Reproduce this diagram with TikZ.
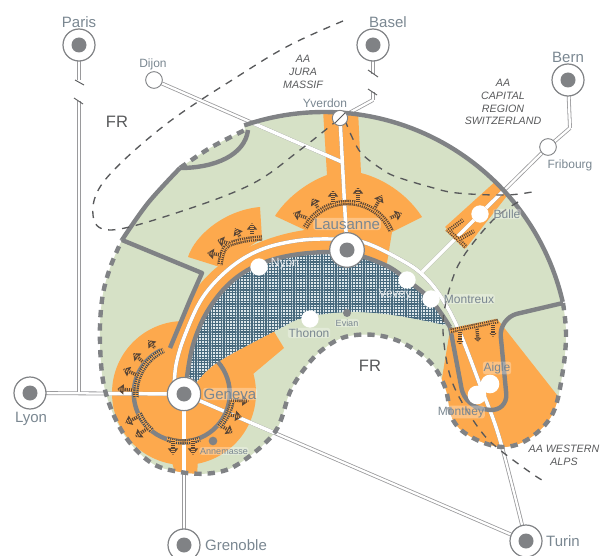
\documentclass[tikz,border=0pt]{standalone}
\usepackage{fontspec}
\setmainfont{Liberation Sans}
\usetikzlibrary{arrows.meta,patterns.meta,calc,backgrounds}
\definecolor{gGreen}{HTML}{D6E1C6}
\definecolor{gOrange}{HTML}{FDA94D}
\definecolor{gLine}{HTML}{808285}
\definecolor{gDark}{HTML}{58595B}
\definecolor{gText}{HTML}{7A8791}
\definecolor{gRail}{HTML}{9A9A9C}
\definecolor{gHatch}{HTML}{5A4636}
\definecolor{gRing}{HTML}{3F4A56}
\definecolor{gLake}{HTML}{DCE6EA}
\definecolor{gGrid}{HTML}{47697D}
\pgfdeclarelayer{lowest}\pgfdeclarelayer{rails}
\pgfsetlayers{lowest,rails,main}
\def\edgeA{plot[smooth,tension=.6] coordinates {(563,303)(566,333)(563,370)(553,413)(530,438)(503,447)(473,438)(453,420)(445,387)(430,362)(403,343)(375,335)(345,337)(322,350)(305,368)(290,392)(275,432)(240,463)(213,473)(180,472)(150,462)(123,433)(105,390)(100,343)(102,300)(110,268)(122,240)}}
\def\edgeB{plot[smooth,tension=.6] coordinates {(122,240)(148,203)(180,168)}}
\def\edgeC{plot[smooth,tension=.6] coordinates {(180,168)(210,148)(245,130)}}
\def\edgeD{plot[domain=251:347,samples=50,smooth] ({324+245*cos(\x)},{357+245*sin(\x)})}
\def\fullEdge{plot[smooth,tension=.6] coordinates {(563,303)(566,333)(563,370)(553,413)(530,438)(503,447)(473,438)(453,420)(445,387)(430,362)(403,343)(375,335)(345,337)(322,350)(305,368)(290,392)(275,432)(240,463)(213,473)(180,472)(150,462)(123,433)(105,390)(100,343)(102,300)(110,268)(122,240)} -- plot[smooth,tension=.6] coordinates {(122,240)(148,203)(180,168)} -- plot[smooth,tension=.6] coordinates {(180,168)(210,148)(245,130)} -- plot[domain=251:347,samples=50,smooth] ({324+245*cos(\x)},{357+245*sin(\x)}) -- cycle}
\def\lakePath{plot[smooth,tension=.6] coordinates {(187,377)(193,345)(207,312)(230,283)(260,264)(300,254)(347,253)(385,265)(407,280)(431,300)(445,323)} -- plot[smooth,tension=.6] coordinates {(445,325)(393,315)(347,312)(303,318)(277,330)(218,362)(197,382)} -- cycle}
\def\roadPath{plot[smooth,tension=.6] coordinates {(gStart)(176,365)(185,335)(203,297)(230,268)(260,250)(295,241)(330,239)(363,242)(403,261)(425,277)(443,300)(460,333)(480,385)(500,440)(Turin.center)}}
\tikzset{
  x=.75pt,y=-.75pt,
  every node/.style={inner sep=0pt,outer sep=0pt,text=gText},
  hub/.style={circle,draw=gLine,fill=white,line width=.9pt,minimum size=24pt,
     path picture={\fill[gLine] (path picture bounding box.center) circle (7.5);}},
  city/.style={circle,draw=gLine,fill=white,line width=.7pt,minimum size=12.5pt},
  town/.style={circle,fill=white,minimum size=13pt},
  dotnode/.style={circle,fill=gLine,minimum size=6pt},
  big/.style={font=\fontsize{11.25}{13}\selectfont},
  mid/.style={font=\fontsize{9}{11}\selectfont},
  tiny/.style={font=\fontsize{6.75}{8}\selectfont},
  area/.style={font=\itshape\fontsize{8}{9.6}\selectfont,text=gDark,align=center},
  on/.style={fill=white,fill opacity=.3,text opacity=1,inner sep=.6pt,rounded corners=2pt},
  onlake/.style={text=white!82!gText},
  bound/.style={draw=gLine,line width=3.3pt,line join=round},
  dbound/.style={draw=gLine,line width=3.3pt,dash pattern=on 5.5pt off 4.5pt},
  zone/.style={draw=gDark,line width=1pt,dash pattern=on 5.5pt off 5pt},
  spine/.style={draw=gHatch,line width=4pt,
    postaction={draw=gOrange,line width=4pt,dash pattern=on .55pt off 1.05pt},
    postaction={draw=gOrange,line width=.5pt}},
  ringspine/.style={spine,draw=gRing},
  stub/.style={draw=gHatch,line width=2.4pt,-{Triangle[length=5pt,width=7.5pt,fill=gHatch!75!gOrange]},
    postaction={draw=gOrange,line width=2.4pt,-,dash pattern=on .55pt off 1.05pt}},
  tick/.style={draw=gDark,line width=.7pt},
}
\begin{document}
\begin{tikzpicture}
\useasboundingbox (0,0) rectangle (603,556);
% nodes
\node[hub] (Paris) at (79,45) {};
\node[hub] (Basel) at (373,45) {};
\node[hub] (Bern) at (568,80) {};
\node[hub] (Lyon) at (30,393) {};
\node[hub,minimum size=24pt] (Grenoble) at (184,545) {};
\node[hub] (Turin) at (526,541) {};
\node[hub,fill=white,line width=.9pt,minimum size=25pt] (Geneva) at (184,394) {};
\node[hub,minimum size=26pt] (Lausanne) at (347,250) {};
\node[city] (Dijon) at (154,80) {};
\node[city] (Fribourg) at (548,147) {};
\node[city,minimum size=11.5pt,path picture={\draw[gDark,line width=.7pt] (path picture bounding box.south west) -- (path picture bounding box.north east);}] (Yverdon) at (340,118) {};
\node[town] (Bulle) at (480,214) {};
\node[town] (Nyon) at (259,267) {};
\node[town] (Vevey) at (407,280) {};
\node[town] (Montreux) at (431,299) {};
\node[town] (Thonon) at (310,319) {};
\node[town,minimum size=14pt] (Aigle) at (490,384) {};
\node[town,minimum size=14pt] (Monthey) at (477,395) {};
\node[dotnode] (Evian) at (347,313) {};
\node[dotnode,minimum size=6.5pt] (Annemasse) at (213,441) {};
\coordinate (gStart) at (174,392);
\coordinate (parisA) at (79,80);
\coordinate (parisB) at (79,101);
\coordinate (parisC) at (79,392);
\coordinate (baselA) at (373,74);
\coordinate (baselB) at (373,92);
\coordinate (baselC) at (373,100);
\coordinate (bernA) at (570,128);
\coordinate (dijonEnd) at (342,162);
\coordinate (bulleEnd) at (422,272);
% background
\begin{pgfonlayer}{lowest}
\fill[gGreen] \fullEdge;
\begin{scope}
\clip \fullEdge;
\fill[gOrange] (184,393) circle (72);
\fill[gOrange] (170,455) -- (198,455) -- (197,480) -- (177,480) -- cycle;
\fill[gOrange] (218,362) -- (273,330) -- (284,348) -- (240,385) -- cycle;
\fill[gOrange] (170,348) -- (190,300) .. controls (205,268) and (250,238) .. (305,230) -- (275,216) .. controls (285,200) and (305,183) .. (327,175) -- (323,110) -- (358,110) -- (361,173) .. controls (388,180) and (410,198) .. (422,217) -- (392,232) -- (387,263) -- (347,262) -- (260,270) -- (205,330) -- (187,380) -- cycle;
\fill[gOrange] (188,257) .. controls (195,235) and (225,210) .. (260,207) -- (262,238) -- (220,267) -- cycle;
\fill[gOrange] (445,227) -- (497,180) -- (510,192) -- (466,248) -- cycle;
\fill[gOrange] (450,330) -- (498,320) -- (557,395) -- (575,470) -- (430,470) -- (440,390) -- cycle;
\end{scope}
\fill[gLake] \lakePath;
\fill[pattern={Lines[angle=0,distance=2.1pt,line width=.95pt]},pattern color=gGrid] \lakePath;
\fill[pattern={Lines[angle=90,distance=2.1pt,line width=.95pt]},pattern color=gGrid] \lakePath;
\end{pgfonlayer}
% rails
\begin{pgfonlayer}{rails}
\foreach \w/\c in {2.9pt/gRail,1.7pt/white}{
  \foreach \a/\b in {Paris/parisA,parisB/parisC,Lyon/Geneva,Geneva/Grenoble,Geneva/Turin,Dijon/dijonEnd,Yverdon/Lausanne,Basel/baselA,baselB/baselC,baselC/Yverdon,Bern/bernA,bernA/Fribourg,Fribourg/Bulle,Bulle/bulleEnd}
    \draw[draw=\c,line width=\w,line join=round] (\a) -- (\b);
  \draw[draw=\c,line width=\w] \roadPath;
}
\begin{scope}
\clip \fullEdge;
\foreach \a/\b in {Lyon/Geneva,Geneva/Grenoble,Geneva/Turin,Dijon/dijonEnd,Yverdon/Lausanne,Fribourg/Bulle,Bulle/bulleEnd}
  \draw[draw=white,line width=2.6pt] (\a) -- (\b);
\draw[draw=white,line width=2.6pt] \roadPath;
\end{scope}
\draw[tick] (75,80) -- (84,85);
\draw[tick] (74,98) -- (83,104);
\draw[tick] (368,70) -- (378,77);
\draw[tick] (368,89) -- (377,95);
% boundaries
\draw[dbound] \edgeA;
\draw[dbound] \edgeC;
\draw[bound] \edgeB;
\draw[bound] \edgeD;
\draw[bound] (248,130) .. controls (245,155) and (215,168) .. (180,168);
\draw[bound] (122,240) -- (202,273) -- (190,300) -- (170,348);
\draw[bound] plot[smooth,tension=.6] coordinates {(187,377)(193,345)(207,312)(230,283)(260,264)(300,254)(347,253)(385,265)(407,280)(431,300)(450,327)};
\draw[bound,rounded corners=14pt] (450,327) -- (465,407) -- (508,412) -- (499,318) -- (563,303);
\draw[bound] (218,362) arc[start angle=-41,end angle=244,radius=48] ;
% spines
\draw[ringspine] (136,398) arc[start angle=175,end angle=245,radius=48];
\draw[ringspine] (139,413) arc[start angle=157,end angle=131,radius=48];
\draw[ringspine] (167,439) arc[start angle=110,end angle=70,radius=48];
\draw[ringspine] (219,427) arc[start angle=44,end angle=7,radius=48];
\foreach \ax/\ay/\bx/\by in {155/348/148/340,143/362/133/353,137/375/123/369,133/390/117/389,138/417/125/423,148/428/135/437,173/440/173/455,193/440/193/455,230/400/249/401,230/415/242/417,223/427/233/433}
  \draw[stub] (\ax,\ay) -- (\bx,\by);
\draw[spine] (305,228) arc[start angle=208,end angle=336,radius=48];
\foreach \ax/\ay/\bx/\by in {307/218/293/213,318/208/312/198,333/203/333/190,358/203/358/187,375/208/382/195,390/218/402/213}
  \draw[stub] (\ax,\ay) -- (\bx,\by);
\draw[spine] plot[smooth,tension=.7] coordinates {(220,265)(225,248)(240,241)(262,238)};
\foreach \ax/\ay/\bx/\by in {222/255/207/253,228/243/217/240,240/237/235/228,252/235/252/223}
  \draw[stub] (\ax,\ay) -- (\bx,\by);
\draw[spine,line width=3.2pt] (447,229) -- (466,247);
\draw[spine,line width=3pt] (448,231) -- (463,220);
\draw[spine,line width=3pt] (458,240) -- (474,231);
\draw[spine,line width=3.4pt] (450,331) -- (498,321);
\foreach \ax/\ay/\bx/\by in {460/331/460/345,477/328/478/342,493/324/493/337}
  \draw[stub,-{Triangle[length=3pt,width=5pt]}] (\ax,\ay) -- (\bx,\by);
% zones
\draw[zone] plot[smooth,tension=.6] coordinates {(343,21)(290,45)(240,75)(165,125)(105,180)(93,215)(110,230)(170,215)(250,185)(300,150)(340,118)};
\draw[zone] plot[smooth,tension=.6] coordinates {(345,120)(352,137)(362,154)(383,170)(397,177)(430,187)(457,193)(507,195)(537,191)};
\draw[zone] plot[smooth,tension=.6] coordinates {(518,202)(493,220)(463,257)(450,287)(443,323)(447,363)(457,393)(480,430)(500,450)(537,477)(546,481)};
\end{pgfonlayer}
% labels
\node[big] (tParis) at (79,22) {Paris};
\node[big] (tBasel) at (388,22) {Basel};
\node[big] (tBern) at (568,57) {Bern};
\node[big] (tLyon) at (31,419) {Lyon};
\node[big] (tGrenoble) at (236,545) {Grenoble};
\node[big] (tTurin) at (563,541) {Turin};
\node[big,on] (tGeneva) at (230,394) {Geneva};
\node[big,on] (tLausanne) at (347,224) {Lausanne};
\node[font=\fontsize{12.4}{14}\selectfont,text=gDark] (tFRa) at (117,122) {FR};
\node[font=\fontsize{12.4}{14}\selectfont,text=gDark] (tFRb) at (370,366) {FR};
\node[mid] (tDijon) at (153,64) {Dijon};
\node[mid] (tYverdon) at (325,103) {Yverdon};
\node[mid] (tFribourg) at (570,165) {Fribourg};
\node[mid,on] (tBulle) at (507,214) {Bulle};
\node[mid,on] (tMontreux) at (469,299) {Montreux};
\node[mid,onlake] (tNyon) at (285,264) {Nyon};
\node[mid,onlake] (tVevey) at (395,295) {Vevey};
\node[mid,on] (tThonon) at (309,333) {Thonon};
\node[mid,on] (tAigle) at (497,368) {Aigle};
\node[mid,on] (tMonthey) at (461,412) {Monthey};
\node[tiny,on] (tEvian) at (347,323) {Evian};
\node[tiny,on] (tAnnemasse) at (224,451) {Annemasse};
\node[area] (aJura) at (303,72) {AA\\JURA\\MASSIF};
\node[area] (aCap) at (503,102) {AA\\CAPITAL\\REGION\\SWITZERLAND};
\node[area] (aAlps) at (564,455) {AA WESTERN\\ALPS};
\end{tikzpicture}
\end{document}
